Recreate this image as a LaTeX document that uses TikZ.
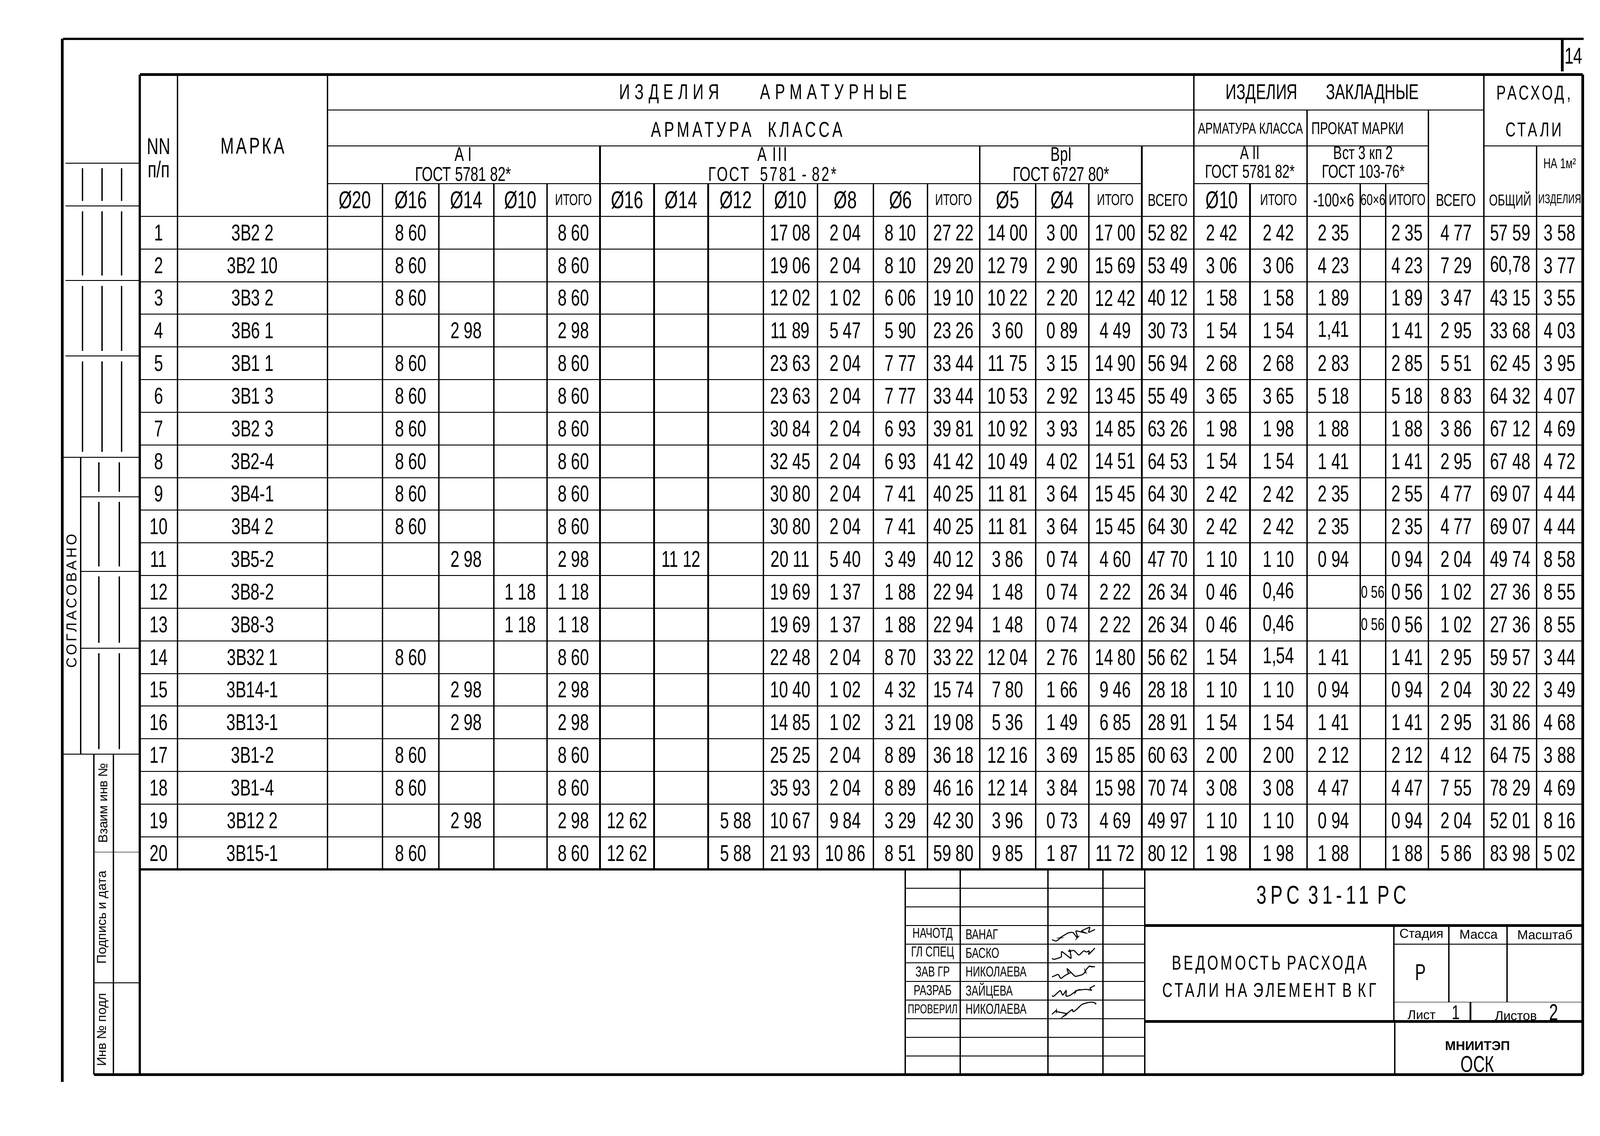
\documentclass[tikz,border=0pt]{standalone}
\usepackage{fontspec}
\setmainfont{Liberation Sans}
\newfontfamily\hand[FakeStretch=0.7]{Liberation Sans}
\usetikzlibrary{decorations.pathmorphing}

\newcommand\hs[1]{\hand\fontsize{#1}{#1}\selectfont}
\newcommand\ps[1]{\fontsize{#1}{#1}\selectfont}
\newcommand\spaced[1]{\addfontfeatures{LetterSpace=#1}}
\newcommand\nsm{\fontsize{12}{12}\selectfont}

% one row of the table: row number, list of column/value
\newcommand\datarow[2]{%
  \foreach \i/\v in {#2}
    \node[num] (d#1-\i) at (c\i |- r#1) {\v};}

\tikzset{
  thickline/.style={line width=0.6mm},
  gridline/.style={line width=0.35mm},
  rowline/.style={line width=0.22mm},
  num/.style={font=\hs{16}, inner sep=0pt},
  hdr/.style={font=\hs{14}, inner sep=0pt, align=center},
  printed/.style={font=\ps{9}, inner sep=0pt},
  staff/.style={font=\hs{10}, inner sep=0pt},
  scribble/.style={line width=0.25mm, rounded corners=0.8pt, decorate,
    decoration={random steps, segment length=2.4pt, amplitude=3.6pt}}
}

\begin{document}
\begin{tikzpicture}[x=0.25mm,y=-0.25mm]
\useasboundingbox (0,0) rectangle (1568,1113);

% column centres and row centres (loop)
\foreach \x [count=\i] in {155.5,247.5,348,402.5,457,510,562,614.5,667.5,721,774.5,828.5,882.5,934.5,987.5,1041,1093,1144.5,1197.5,1253,1307,1345.5,1379,1427,1480,1528.5}
  \coordinate (c\i) at (\x,0);
\foreach \r in {1,...,20}
  \coordinate (r\r) at (0,196+32*\r);
\coordinate (hrow) at (0,196);
\coordinate (hrow2) at (0,160);

% sheet frame
\draw[thickline] (62,38) -- (1552,38);
\draw[thickline] (61,38) -- (61,1060);
\draw[thickline] (1531,38) -- (1531,70);
\node[num] (sheet) at (1542,55) {14};
\draw[thickline] (137,73) -- (1551,73);
\draw[thickline] (137,73) -- (137,1053);
\draw[thickline] (1551,73) -- (1551,1053);
\draw[thickline] (92,1053) -- (1551,1053);

% table verticals (loop)
\foreach \x in {174,321,1170,1454}
  \draw[gridline] (\x,73) -- (\x,852);
\foreach \x in {1281,1400}
  \draw[gridline] (\x,108) -- (\x,852);
\foreach \x in {588,960,1119,1506}
  \draw[gridline] (\x,143) -- (\x,852);
\foreach \x in {375,430,484,536,641,694,748,801,856,909,1015,1067,1225,1333,1358}
  \draw[gridline] (\x,180) -- (\x,852);

% header and row lines
\draw[rowline] (321,108) -- (1454,108);
\draw[rowline] (321,143) -- (1400,143) (1454,143) -- (1551,143);
\draw[rowline] (321,180) -- (1119,180) (1170,180) -- (1400,180);
\foreach \k in {0,...,19}
  \draw[rowline] (137,212+32*\k) -- (1551,212+32*\k);
\draw[thickline] (137,852) -- (1551,852);

% header texts
\node[hdr, font=\hs{16}] (nn) at (c1 |- 0,155) {NN\\п/п};
\node[hdr, font={\hs{16}\spaced{10}}] (mark) at (c2 |- 0,143) {МАРКА};
\node[hdr, font={\hs{15}\spaced{22}}] (arm) at (748,92) {ИЗДЕЛИЯ\hspace{10mm}АРМАТУРНЫЕ};
\node[hdr, font={\hs{15}\spaced{14}}] (armcl) at (732,127) {АРМАТУРА\hspace{4mm}КЛАССА};
\node[hdr] (ai) at (454,161) {А I\\ГОСТ 5781 82*};
\node[hdr, font={\hs{14}\spaced{8}}] (aiii) at (757,161) {А III\\ГОСТ\ \ 5781 - 82*};
\node[hdr] (bpi) at (1040,161) {ВрI\\ГОСТ 6727 80*};
\node[hdr, font=\hs{15}] (zakl) at (1296,92) {ИЗДЕЛИЯ\hspace{7mm}ЗАКЛАДНЫЕ};
\node[hdr, font=\hs{11}] (zcl) at (1225.5,126) {АРМАТУРА КЛАССА};
\node[hdr, font=\hs{12}, anchor=west] (zprok) at (1285,126) {ПРОКАТ МАРКИ};
\node[hdr, font=\hs{13}] (aii) at (1225,159) {А II\\ГОСТ 5781 82*};
\node[hdr, font=\hs{13}] (vst) at (1336,159) {Вст 3 кп 2\\ГОСТ 103-76*};
\node[hdr, font={\hs{14}\spaced{12}}] (rash1) at (1503,93) {РАСХОД,};
\node[hdr, font={\hs{14}\spaced{12}}] (rash2) at (1503,127) {СТАЛИ};

% diameter row (loop)
\foreach \i/\t in {3/Ø20,4/Ø16,5/Ø14,6/Ø10,8/Ø16,9/Ø14,10/Ø12,11/Ø10,12/Ø8,13/Ø6,15/Ø5,16/Ø4,19/Ø10}
  \node[num, font=\hs{17}] (h\i) at (c\i |- hrow) {\t};
\foreach \i in {7,14,17,20,23}
  \node[num, font=\hs{11}] (h\i) at (c\i |- hrow) {ИТОГО};
\foreach \i in {18,24}
  \node[num, font=\hs{12}] (h\i) at (c\i |- hrow) {ВСЕГО};
\node[num, font=\hs{13}] (h21) at (c21 |- hrow) {-100×6};
\node[num, font=\hs{11}] (h22) at (c22 |- hrow) {60×6};
\node[num, font=\hs{11}] (h25) at (c25 |- hrow) {ОБЩИЙ};
\node[num, font=\hs{9}] (h26) at (c26 |- hrow) {ИЗДЕЛИЯ};
\node[num, font=\hs{10}] (h26b) at (c26 |- hrow2) {НА 1м²};

% data rows
\datarow{1}{1/1, 2/3В2 2, 4/8 60, 7/8 60, 11/17 08, 12/2 04, 13/8 10, 14/27 22, 15/14 00, 16/3 00, 17/17 00, 18/52 82, 19/2 42, 20/2 42, 21/2 35, 23/2 35, 24/4 77, 25/57 59, 26/3 58}
\datarow{2}{1/2, 2/3В2 10, 4/8 60, 7/8 60, 11/19 06, 12/2 04, 13/8 10, 14/29 20, 15/12 79, 16/2 90, 17/15 69, 18/53 49, 19/3 06, 20/3 06, 21/4 23, 23/4 23, 24/7 29, 25/{60,78}, 26/3 77}
\datarow{3}{1/3, 2/3В3 2, 4/8 60, 7/8 60, 11/12 02, 12/1 02, 13/6 06, 14/19 10, 15/10 22, 16/2 20, 17/12 42, 18/40 12, 19/1 58, 20/1 58, 21/1 89, 23/1 89, 24/3 47, 25/43 15, 26/3 55}
\datarow{4}{1/4, 2/3В6 1, 5/2 98, 7/2 98, 11/11 89, 12/5 47, 13/5 90, 14/23 26, 15/3 60, 16/0 89, 17/4 49, 18/30 73, 19/1 54, 20/1 54, 21/{1,41}, 23/1 41, 24/2 95, 25/33 68, 26/4 03}
\datarow{5}{1/5, 2/3В1 1, 4/8 60, 7/8 60, 11/23 63, 12/2 04, 13/7 77, 14/33 44, 15/11 75, 16/3 15, 17/14 90, 18/56 94, 19/2 68, 20/2 68, 21/2 83, 23/2 85, 24/5 51, 25/62 45, 26/3 95}
\datarow{6}{1/6, 2/3В1 3, 4/8 60, 7/8 60, 11/23 63, 12/2 04, 13/7 77, 14/33 44, 15/10 53, 16/2 92, 17/13 45, 18/55 49, 19/3 65, 20/3 65, 21/5 18, 23/5 18, 24/8 83, 25/64 32, 26/4 07}
\datarow{7}{1/7, 2/3В2 3, 4/8 60, 7/8 60, 11/30 84, 12/2 04, 13/6 93, 14/39 81, 15/10 92, 16/3 93, 17/14 85, 18/63 26, 19/1 98, 20/1 98, 21/1 88, 23/1 88, 24/3 86, 25/67 12, 26/4 69}
\datarow{8}{1/8, 2/3В2-4, 4/8 60, 7/8 60, 11/32 45, 12/2 04, 13/6 93, 14/41 42, 15/10 49, 16/4 02, 17/14 51, 18/64 53, 19/1 54, 20/1 54, 21/1 41, 23/1 41, 24/2 95, 25/67 48, 26/4 72}
\datarow{9}{1/9, 2/3В4-1, 4/8 60, 7/8 60, 11/30 80, 12/2 04, 13/7 41, 14/40 25, 15/11 81, 16/3 64, 17/15 45, 18/64 30, 19/2 42, 20/2 42, 21/2 35, 23/2 55, 24/4 77, 25/69 07, 26/4 44}
\datarow{10}{1/10, 2/3В4 2, 4/8 60, 7/8 60, 11/30 80, 12/2 04, 13/7 41, 14/40 25, 15/11 81, 16/3 64, 17/15 45, 18/64 30, 19/2 42, 20/2 42, 21/2 35, 23/2 35, 24/4 77, 25/69 07, 26/4 44}
\datarow{11}{1/11, 2/3В5-2, 5/2 98, 7/2 98, 9/11 12, 11/20 11, 12/5 40, 13/3 49, 14/40 12, 15/3 86, 16/0 74, 17/4 60, 18/47 70, 19/1 10, 20/1 10, 21/0 94, 23/0 94, 24/2 04, 25/49 74, 26/8 58}
\datarow{12}{1/12, 2/3В8-2, 6/1 18, 7/1 18, 11/19 69, 12/1 37, 13/1 88, 14/22 94, 15/1 48, 16/0 74, 17/2 22, 18/26 34, 19/0 46, 20/{0,46}, 22/{\nsm 0 56}, 23/0 56, 24/1 02, 25/27 36, 26/8 55}
\datarow{13}{1/13, 2/3В8-3, 6/1 18, 7/1 18, 11/19 69, 12/1 37, 13/1 88, 14/22 94, 15/1 48, 16/0 74, 17/2 22, 18/26 34, 19/0 46, 20/{0,46}, 22/{\nsm 0 56}, 23/0 56, 24/1 02, 25/27 36, 26/8 55}
\datarow{14}{1/14, 2/3В32 1, 4/8 60, 7/8 60, 11/22 48, 12/2 04, 13/8 70, 14/33 22, 15/12 04, 16/2 76, 17/14 80, 18/56 62, 19/1 54, 20/{1,54}, 21/1 41, 23/1 41, 24/2 95, 25/59 57, 26/3 44}
\datarow{15}{1/15, 2/3В14-1, 5/2 98, 7/2 98, 11/10 40, 12/1 02, 13/4 32, 14/15 74, 15/7 80, 16/1 66, 17/9 46, 18/28 18, 19/1 10, 20/1 10, 21/0 94, 23/0 94, 24/2 04, 25/30 22, 26/3 49}
\datarow{16}{1/16, 2/3В13-1, 5/2 98, 7/2 98, 11/14 85, 12/1 02, 13/3 21, 14/19 08, 15/5 36, 16/1 49, 17/6 85, 18/28 91, 19/1 54, 20/1 54, 21/1 41, 23/1 41, 24/2 95, 25/31 86, 26/4 68}
\datarow{17}{1/17, 2/3В1-2, 4/8 60, 7/8 60, 11/25 25, 12/2 04, 13/8 89, 14/36 18, 15/12 16, 16/3 69, 17/15 85, 18/60 63, 19/2 00, 20/2 00, 21/2 12, 23/2 12, 24/4 12, 25/64 75, 26/3 88}
\datarow{18}{1/18, 2/3В1-4, 4/8 60, 7/8 60, 11/35 93, 12/2 04, 13/8 89, 14/46 16, 15/12 14, 16/3 84, 17/15 98, 18/70 74, 19/3 08, 20/3 08, 21/4 47, 23/4 47, 24/7 55, 25/78 29, 26/4 69}
\datarow{19}{1/19, 2/3В12 2, 5/2 98, 7/2 98, 8/12 62, 10/5 88, 11/10 67, 12/9 84, 13/3 29, 14/42 30, 15/3 96, 16/0 73, 17/4 69, 18/49 97, 19/1 10, 20/1 10, 21/0 94, 23/0 94, 24/2 04, 25/52 01, 26/8 16}
\datarow{20}{1/20, 2/3В15-1, 4/8 60, 7/8 60, 8/12 62, 10/5 88, 11/21 93, 12/10 86, 13/8 51, 14/59 80, 15/9 85, 16/1 87, 17/11 72, 18/80 12, 19/1 98, 20/1 98, 21/1 88, 23/1 88, 24/5 86, 25/83 98, 26/5 02}

% title block lines
\foreach \x in {887,941,1027,1081,1122}
  \draw[gridline] (\x,852) -- (\x,1053);
\foreach \k in {1,...,10}
  \draw[rowline] (887,852+18.27*\k) -- (1122,852+18.27*\k);
\draw[thickline] (1122,907) -- (1551,907) (1122,1001) -- (1551,1001);
\draw[gridline] (1366,907) -- (1366,1001) (1420,907) -- (1420,982) (1477,907) -- (1477,982);
\draw[gridline] (1441,982) -- (1441,1001) (1367,1001) -- (1367,1053);
\draw[rowline] (1366,925) -- (1551,925) (1366,982) -- (1551,982);

% signers (loop)
\foreach \k/\f/\p/\n in {3/10/НАЧОТД/ВАНАГ, 4/10/ГЛ СПЕЦ/БАСКО, 5/10/ЗАВ ГР/НИКОЛАЕВА, 6/10/РАЗРАБ/ЗАЙЦЕВА, 7/9/ПРОВЕРИЛ/НИКОЛАЕВА} {
  \node[staff, font=\hs{\f}] (pos\k) at (914,861+18.27*\k) {\p};
  \node[staff, anchor=west] (name\k) at (946,861+18.27*\k) {\n};
  \draw[scribble] (1031,866+18.27*\k) -- (1073,856+18.27*\k);
}

% title block texts
\node[num, font={\hs{18}\spaced{15}}] (doc) at (1305,877) {3РС 31-11 РС};
\node[hdr, font={\hs{14}\spaced{12}}] (title) at (1244,957) {ВЕДОМОСТЬ РАСХОДА\\[1.8mm]СТАЛИ НА ЭЛЕМЕНТ В КГ};
\node[printed] (stage) at (1393,916) {Стадия};
\node[printed] (mass) at (1449,916) {Масса};
\node[printed] (scale) at (1514,916) {Масштаб};
\node[num] (st) at (1392,953) {Р};
\node[printed] (list) at (1405,992) {Лист\hspace{4mm}{\hs{14}1}};
\node[printed] (lists) at (1496,992) {Листов\hspace{3mm}{\hs{16}2}};
\node[printed, font=\bfseries\ps{9}] (org) at (1448,1025) {МНИИТЭП};
\node[num, font=\hs{16}] (osk) at (1448,1043) {ОСК};

% left strip
\foreach \y in {160,202,275,349}
  \draw[rowline] (64,\y) -- (137,\y);
\foreach \y in {448,739}
  \draw[rowline] (61,\y) -- (137,\y);
\foreach \y in {487,560,635}
  \draw[rowline] (79,\y) -- (137,\y);
\foreach \a/\b in {160/202,202/275,275/349,349/448}
  \foreach \x in {81,100,119}
    \draw[gridline] (\x,\a+5) -- (\x,\b-5);
\draw[gridline] (79,448) -- (79,739);
\foreach \a/\b in {448/487,487/560,560/635,635/739}
  \foreach \x in {97,117}
    \draw[gridline] (\x,\a+5) -- (\x,\b-5);
\foreach \x in {92,111}
  \draw[gridline] (\x,739) -- (\x,1053);
\draw[rowline] (92,835) -- (137,835) (92,963) -- (137,963);

\node[printed, rotate=90, font={\ps{10}\spaced{18}}] (agreed) at (70,589) {СОГЛАСОВАНО};
\node[printed, rotate=90] (swap) at (101,787) {Взаим инв №};
\node[printed, rotate=90] (signdate) at (101,899) {Подпись и дата};
\node[printed, rotate=90] (invno) at (101,1009) {Инв № подл};

\end{tikzpicture}
\end{document}
